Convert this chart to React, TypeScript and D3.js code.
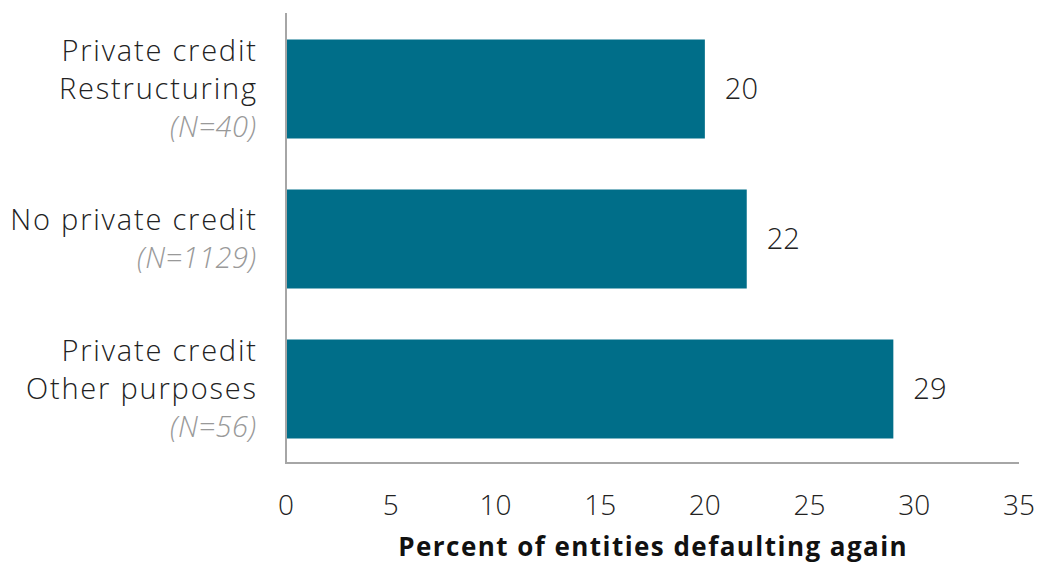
import React from "react";
import * as d3 from "d3";

const categories = ["Private credit|Restructuring", "No private credit", "Private credit|Other purposes"];
const sampleSizes = ["(N=40)", "(N=1129)", "(N=56)"];
const values = [20, 22, 29];
const xTicks = [0, 5, 10, 15, 20, 25, 30, 35];
const xTitle = "Percent of entities defaulting again";

const W = 1038;
const H = 564;
const FONT = "'Open Sans', sans-serif";

export default function App() {
  const x = d3.scaleLinear().domain([0, 35]).range([286, 1019]);
  const y = d3
    .scaleBand<number>()
    .domain(d3.range(categories.length))
    .range([14, 464])
    .paddingInner(0.34)
    .paddingOuter(0.17);
  const lineH = 38;
  return (
    <svg
      width={W}
      height={H}
      style={{ position: "absolute", left: 0, top: 0, background: "#fff" }}
      fontFamily={FONT}
    >
      {categories.map((c, i) => {
        const y0 = y(i)!;
        const bw = y.bandwidth();
        const cy = y0 + bw / 2;
        const lines = c.split("|");
        const all = [...lines, sampleSizes[i]];
        const startY = cy - ((all.length - 1) * lineH) / 2;
        return (
          <g key={i}>
            <rect x={x(0)} y={y0} width={x(values[i]) - x(0)} height={bw} fill="#006e89" />
            <text
              x={x(values[i]) + 20}
              y={cy}
              dy="0.35em"
              fontSize={29}
              fontWeight={300}
              fill="#222"
            >
              {values[i]}
            </text>
            {all.map((t, j) => {
              const isN = j === all.length - 1;
              const ls = isN ? 0.5 : 1.8;
              return (
                <text
                  key={j}
                  x={256 + ls}
                  y={startY + j * lineH}
                  dy="0.35em"
                  textAnchor="end"
                  fontSize={29}
                  fontWeight={300}
                  letterSpacing={ls}
                  fontStyle={isN ? "italic" : "normal"}
                  fill={isN ? "#999" : "#222"}
                >
                  {t}
                </text>
              );
            })}
          </g>
        );
      })}
      <line x1={x(0)} x2={x(0)} y1={13} y2={464} stroke="#a6a6a6" strokeWidth={2} />
      <line x1={x(0) - 1} x2={x(35)} y1={463} y2={463} stroke="#a6a6a6" strokeWidth={2} />
      {xTicks.map((t) => (
        <text
          key={t}
          x={x(t)}
          y={505}
          dy="0.35em"
          textAnchor="middle"
          fontSize={28}
          fontWeight={300}
          fill="#222"
        >
          {t}
        </text>
      ))}
      <text
        x={(x(0) + x(35)) / 2 + 0.7}
        y={556}
        textAnchor="middle"
        fontSize={26}
        fontWeight={700}
        letterSpacing={1.45}
        fill="#111"
      >
        {xTitle}
      </text>
    </svg>
  );
}
